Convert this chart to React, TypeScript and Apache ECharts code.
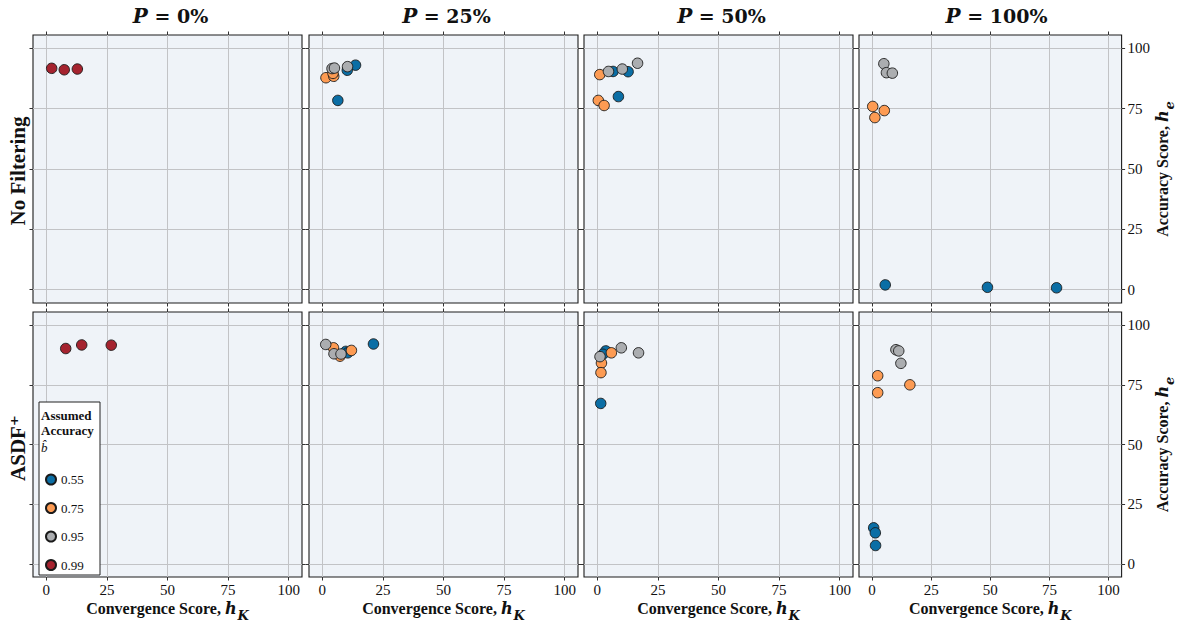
import React, { useEffect, useRef } from "react";
import * as echarts from "echarts";

// Panel labels
const columnLabels = ["0%", "25%", "50%", "100%"];
const rowLabels = ["No Filtering", "ASDF\u207A"];
const accuracyLevels = ["0.55", "0.75", "0.95", "0.99"];
const tickValues = [0, 25, 50, 75, 100];

// [convergence score h_K, accuracy score h_e]
// No filtering
const noFilterP0_099 = [[2.2, 91.7], [7.4, 91.1], [12.8, 91.4]];
const noFilterP25_055 = [[10.3, 90.9], [13.7, 93.0], [6.4, 78.4]];
const noFilterP25_075 = [[1.5, 87.8], [4.7, 88.4], [4.4, 89.6]];
const noFilterP25_095 = [[4.0, 91.6], [5.0, 91.8], [10.4, 92.4]];
const noFilterP50_055 = [[6.5, 90.4], [12.7, 90.3], [8.7, 80.0]];
const noFilterP50_075 = [[1.0, 89.1], [0.4, 78.4], [2.8, 76.3]];
const noFilterP50_095 = [[4.6, 90.4], [10.3, 91.4], [16.6, 93.8]];
const noFilterP100_055 = [[5.6, 2.0], [48.8, 1.0], [78.0, 0.8]];
const noFilterP100_075 = [[0.3, 75.9], [1.2, 71.3], [5.2, 74.2]];
const noFilterP100_095 = [[5.0, 93.6], [6.1, 89.9], [8.6, 89.7]];
// ASDF+
const asdfP0_099 = [[8.0, 90.2], [14.6, 91.7], [26.8, 91.6]];
const asdfP25_055 = [[9.7, 89.0], [10.5, 88.4], [21.1, 92.1]];
const asdfP25_075 = [[4.6, 90.5], [7.3, 87.0], [12.0, 89.4]];
const asdfP25_095 = [[1.4, 91.9], [4.8, 88.0], [7.7, 87.9]];
const asdfP50_055 = [[3.5, 89.2], [2.3, 87.8], [1.4, 67.2]];
const asdfP50_075 = [[5.8, 88.4], [1.7, 84.1], [1.5, 80.1]];
const asdfP50_095 = [[1.1, 86.8], [9.9, 90.5], [17.0, 88.4]];
const asdfP100_055 = [[0.7, 15.1], [1.4, 13.0], [1.5, 7.7]];
const asdfP100_075 = [[2.4, 78.8], [2.4, 71.7], [16.0, 75.0]];
const asdfP100_095 = [[10.1, 89.7], [11.3, 89.2], [12.2, 84.0]];

// panel grid: rows x columns, each entry lists [level index, points]
const panelData: [number, number[][]][][][] = [
  [
    [[3, noFilterP0_099]],
    [[0, noFilterP25_055], [1, noFilterP25_075], [2, noFilterP25_095]],
    [[0, noFilterP50_055], [1, noFilterP50_075], [2, noFilterP50_095]],
    [[0, noFilterP100_055], [1, noFilterP100_075], [2, noFilterP100_095]],
  ],
  [
    [[3, asdfP0_099]],
    [[0, asdfP25_055], [1, asdfP25_075], [2, asdfP25_095]],
    [[0, asdfP50_055], [1, asdfP50_075], [2, asdfP50_095]],
    [[0, asdfP100_055], [1, asdfP100_075], [2, asdfP100_095]],
  ],
];

const COLORS = ["#0b6ea5", "#fd9b53", "#abadb0", "#a5232f"];
const SERIF = "'Liberation Serif', 'Times New Roman', 'DejaVu Serif', serif";
const WIDE_SERIF = "'DejaVu Serif', 'Liberation Serif', serif";
const PANEL_LEFT = [33, 309, 584, 859];
const PANEL_TOP = [35, 312];
const PANEL_W = 269;
const PANEL_H = 268;
const AXIS_MIN = -5.5;
const AXIS_MAX = 105.5;

const tickStyle = { color: "#333", width: 1 };
const gridLineStyle = { color: "#c2c3c6", width: 1 };

const mathRich = {
  a: { fontFamily: SERIF, fontWeight: "bold", fontSize: 16, color: "#111", lineHeight: 18, verticalAlign: "top" },
  m: { fontFamily: WIDE_SERIF, fontWeight: "bold", fontStyle: "italic", fontSize: 16, color: "#111", lineHeight: 18, verticalAlign: "top" },
  s: { fontFamily: WIDE_SERIF, fontWeight: "bold", fontStyle: "italic", fontSize: 13, color: "#111", lineHeight: 13, verticalAlign: "top", padding: [9, 0, 0, 1] },
};

function buildOption() {
  const grid: any[] = [];
  const xAxis: any[] = [];
  const yAxis: any[] = [];
  const series: any[] = [];
  const graphic: any[] = [];

  for (let r = 0; r < 2; r++) {
    for (let c = 0; c < 4; c++) {
      const g = grid.length;
      grid.push({
        left: PANEL_LEFT[c],
        top: PANEL_TOP[r],
        width: PANEL_W,
        height: PANEL_H,
        show: true,
        backgroundColor: "#eff3f8",
        borderColor: "#1c1c1c",
        borderWidth: 1.1,
        containLabel: false,
      });
      const bottomRow = r === 1;
      const rightCol = c === 3;
      const baseAxis = {
        gridIndex: g,
        type: "value",
        min: AXIS_MIN,
        max: AXIS_MAX,
        axisLine: { show: false, onZero: false },
        axisTick: { show: true, inside: false, length: 3.5, customValues: tickValues, lineStyle: tickStyle },
      };
      xAxis.push({
        ...baseAxis,
        position: "bottom",
        axisLabel: {
          show: bottomRow,
          customValues: tickValues,
          margin: 5,
          fontFamily: SERIF,
          fontSize: 15,
          color: "#111",
        },
        splitLine: { show: true, lineStyle: gridLineStyle },
        name: bottomRow ? "{a|Convergence Score, }{m|h}{s|K}" : "",
        nameLocation: "middle",
        nameGap: 23,
        nameTextStyle: { rich: mathRich },
      });
      xAxis.push({
        ...baseAxis,
        position: "top",
        axisLabel: { show: false, customValues: tickValues },
        splitLine: { show: false },
      });
      yAxis.push({
        ...baseAxis,
        position: "left",
        axisLabel: { show: false, customValues: tickValues },
        splitLine: { show: true, lineStyle: gridLineStyle },
      });
      yAxis.push({
        ...baseAxis,
        position: "right",
        axisLabel: {
          show: rightCol,
          customValues: tickValues,
          margin: 6,
          fontFamily: SERIF,
          fontSize: 15,
          color: "#111",
        },
        splitLine: { show: false },
        name: rightCol ? "{a|Accuracy Score, }{m|h}{s|e}" : "",
        nameLocation: "middle",
        nameRotate: 90,
        nameGap: 30,
        nameTextStyle: { rich: mathRich },
      });

      for (const [level, pts] of panelData[r][c]) {
        series.push({
          type: "scatter",
          name: accuracyLevels[level],
          xAxisIndex: g * 2,
          yAxisIndex: g * 2,
          data: pts,
          symbol: "circle",
          symbolSize: 10.5,
          z: 2 + level,
          itemStyle: { color: COLORS[level], borderColor: "#1a1a1a", borderWidth: 0.9, opacity: 1 },
          emphasis: { disabled: true },
        });
      }
    }
  }

  // column headings
  columnLabels.forEach((lab, c) => {
    graphic.push({
      type: "text",
      x: PANEL_LEFT[c] + PANEL_W / 2 + 3,
      y: 16,
      style: {
        text: `{p|P}{t| = ${lab}}`,
        align: "center",
        verticalAlign: "middle",
        rich: {
          p: { fontFamily: WIDE_SERIF, fontWeight: "bold", fontStyle: "italic", fontSize: 20, fill: "#111" },
          t: { fontFamily: WIDE_SERIF, fontWeight: "bold", fontSize: 19, fill: "#111" },
        },
      },
    });
  });

  // row headings
  rowLabels.forEach((lab, r) => {
    graphic.push({
      type: "text",
      x: 18,
      y: PANEL_TOP[r] + PANEL_H / 2 + 2,
      rotation: Math.PI / 2,
      style: {
        text: lab,
        align: "center",
        verticalAlign: "middle",
        fontFamily: SERIF,
        fontWeight: "bold",
        fontSize: 21,
        fill: "#111",
      },
    });
  });

  // legend frame and heading
  graphic.push({
    type: "rect",
    z: 50,
    shape: { x: 39, y: 402, width: 61, height: 173 },
    style: { fill: "#ffffff", stroke: "#222", lineWidth: 1 },
  });
  const legendHead = [
    ["Assumed", 415, "bold", "normal"],
    ["Accuracy", 430, "bold", "normal"],
    ["b\u0302", 447, "normal", "italic"],
  ];
  legendHead.forEach(([t, y, w, s]) => {
    graphic.push({
      type: "text",
      z: 51,
      x: 41,
      y,
      style: { text: t, verticalAlign: "middle", fontFamily: SERIF, fontWeight: w, fontStyle: s, fontSize: 13, fill: "#111" },
    });
  });

  return {
    animation: false,
    grid,
    xAxis,
    yAxis,
    series,
    graphic,
    legend: {
      show: true,
      data: accuracyLevels,
      orient: "vertical",
      left: 45,
      top: 473,
      padding: 0,
      z: 60,
      icon: "circle",
      itemWidth: 10,
      itemHeight: 10,
      itemGap: 15.5,
      selectedMode: false,
      textStyle: { fontFamily: SERIF, fontSize: 13, color: "#111", lineHeight: 12.5 },
    },
  };
}

export default function App() {
  const ref = useRef<HTMLDivElement>(null);
  useEffect(() => {
    if (!ref.current) return;
    const chart = echarts.init(ref.current, null, { renderer: "svg" });
    chart.setOption(buildOption() as any);
    return () => chart.dispose();
  }, []);
  return (
    <div
      ref={ref}
      style={{ position: "fixed", left: 0, top: 0, width: 1177, height: 623, background: "#ffffff" }}
    />
  );
}
